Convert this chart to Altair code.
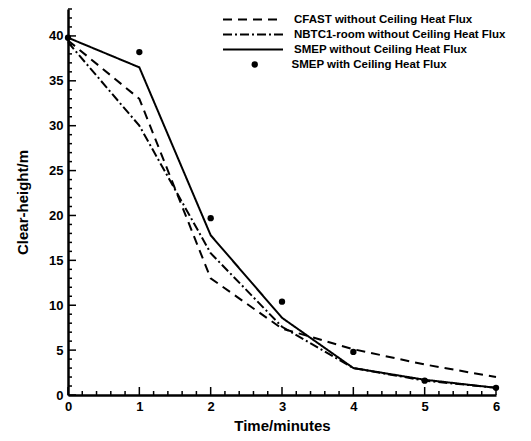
import altair as alt
import pandas as pd

# Clear height over time for four fire models
time_min = [0, 1, 2, 3, 4, 5, 6]
cfast_no_flux = [39.5, 33.0, 13.0, 7.4, 5.1, 3.4, 2.0]
nbtc1_no_flux = [39.3, 30.0, 15.8, 7.6, 3.0, 1.6, 0.8]
smep_no_flux = [39.8, 36.5, 17.8, 8.6, 3.0, 1.7, 0.8]
smep_with_flux = [39.8, 38.2, 19.7, 10.4, 4.8, 1.6, 0.8]

line_names = [
    "CFAST without Ceiling Heat Flux",
    "NBTC1-room without Ceiling Heat Flux",
    "SMEP without Ceiling Heat Flux",
]
point_name = "SMEP with Ceiling Heat Flux"

# axis tick positions
y_major = [0, 5, 10, 15, 20, 25, 30, 35, 40]
y_minor = [v for v in range(1, 44) if v % 5 != 0]
x_major = [0, 1, 2, 3, 4, 5, 6]
x_minor = [round(i * 0.2, 1) for i in range(31) if i % 5 != 0]

W, H = 428, 386
FONT = "Liberation Sans"

lines_df = pd.concat(
    [
        pd.DataFrame({"time": time_min, "height": vals, "series": name})
        for name, vals in zip(line_names, [cfast_no_flux, nbtc1_no_flux, smep_no_flux])
    ],
    ignore_index=True,
)
points_df = pd.DataFrame({"time": time_min, "height": smep_with_flux, "series": point_name})

x_scale = alt.Scale(domain=[0, 6], nice=False)
y_scale = alt.Scale(domain=[0, 43], nice=False)

x_axis = alt.Axis(
    values=x_major, format="d", ticks=False, grid=False,
    domainColor="black", domainWidth=2.5,
    labelFont=FONT, labelFontSize=13, labelFontWeight="bold", labelColor="black",
    labelPadding=5, labelFlush=False,
    title="Time/minutes", titleFont=FONT, titleFontSize=15, titleFontWeight="bold",
    titleColor="black", titlePadding=5,
)
y_axis = alt.Axis(
    values=y_major, format="d", ticks=False, grid=False,
    domainColor="black", domainWidth=2.5,
    labelFont=FONT, labelFontSize=13, labelFontWeight="bold", labelColor="black",
    labelPadding=5, labelFlush=False,
    title="Clear-height/m", titleFont=FONT, titleFontSize=15, titleFontWeight="bold",
    titleColor="black", titlePadding=18,
)

legend_text = dict(
    labelFont=FONT, labelFontSize=11.5, labelFontWeight="bold",
    labelColor="black", labelLimit=400,
)

lines = alt.Chart(lines_df).mark_line(color="black", strokeWidth=2).encode(
    x=alt.X("time:Q", scale=x_scale, axis=x_axis),
    y=alt.Y("height:Q", scale=y_scale, axis=y_axis),
    strokeDash=alt.StrokeDash(
        "series:N",
        scale=alt.Scale(domain=line_names, range=[[9, 6], [9, 3, 2, 3], [1, 0]]),
        legend=alt.Legend(
            title=None, orient="none", legendX=154, legendY=5, padding=0,
            symbolType="stroke", symbolSize=3600, symbolStrokeWidth=2,
            symbolStrokeColor="black", clipHeight=11, rowPadding=3,
            labelOffset=10, **legend_text,
        ),
    ),
)

points = alt.Chart(points_df).mark_point(
    filled=True, color="black", size=40, opacity=1
).encode(
    x=alt.X("time:Q", scale=x_scale),
    y=alt.Y("height:Q", scale=y_scale),
    shape=alt.Shape(
        "series:N",
        scale=alt.Scale(domain=[point_name], range=["circle"]),
        legend=alt.Legend(
            title=None, orient="none", legendX=181, legendY=50, padding=0,
            symbolSize=40, symbolFillColor="black", symbolStrokeColor="black",
            clipHeight=11, labelOffset=31, **legend_text,
        ),
    ),
)

def y_ticks(vals, length):
    return alt.Chart(pd.DataFrame({"v": vals})).mark_rule(
        color="black", strokeWidth=1.5
    ).encode(y=alt.Y("v:Q", scale=y_scale), x=alt.value(0), x2=alt.value(length))

def x_ticks(vals, length):
    return alt.Chart(pd.DataFrame({"v": vals})).mark_rule(
        color="black", strokeWidth=1.5
    ).encode(x=alt.X("v:Q", scale=x_scale), y=alt.value(H), y2=alt.value(H - length))

chart = alt.layer(
    y_ticks(y_major, 8), y_ticks(y_minor, 4),
    x_ticks(x_major, 8), x_ticks(x_minor, 4),
    lines, points,
).resolve_legend(
    strokeDash="independent", shape="independent"
).properties(
    width=W, height=H,
    autosize=alt.AutoSizeParams(type="none"),
    padding={"left": 68, "top": 9, "right": 35, "bottom": 46},
    background="white",
).configure_view(stroke=None)

chart.save("out.html", embed_options={"renderer": "svg", "actions": False})
